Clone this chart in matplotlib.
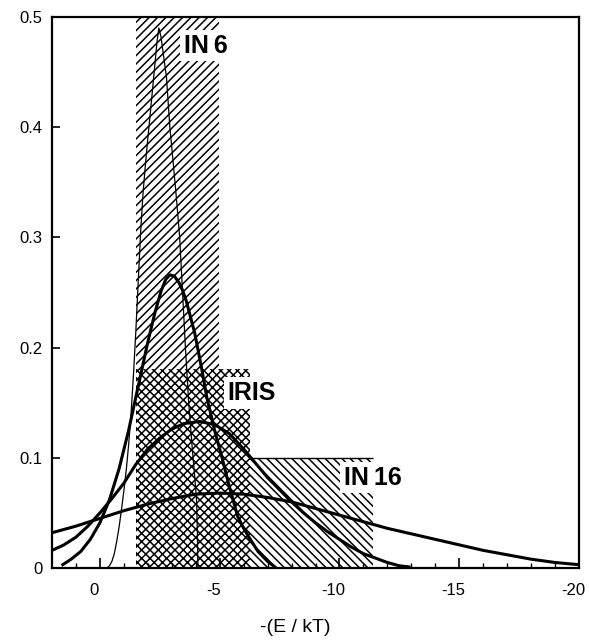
import matplotlib
matplotlib.use("Agg")
import matplotlib.pyplot as plt
import matplotlib.transforms as mtransforms
from matplotlib.patches import Rectangle

plt.rcParams['font.family'] = ['Liberation Sans', 'DejaVu Sans']
plt.rcParams['axes.unicode_minus'] = False
plt.rcParams['hatch.linewidth'] = 1.1

# instrument windows: (left, right, height) in -(E/kT)
in6_window = (-1.5, -4.96, 0.5)
iris_window = (-1.5, -6.25, 0.181)
in16_window = (-6.25, -11.4, 0.1)

# narrow distribution (thin line)
a_x = [-0.3, -0.4, -0.5, -0.6, -0.7, -0.8, -0.9, -1.0, -1.1, -1.2, -1.3, -1.4, -1.5,
       -1.6, -1.7, -1.8, -1.9, -2.0, -2.1, -2.2, -2.3, -2.38, -2.46,
       -2.55, -2.65, -2.78, -2.92, -3.05, -3.2, -3.33, -3.45, -3.57, -3.7,
       -3.85, -3.97, -4.04, -4.07, -4.09]
a_y = [0.0, 0.002, 0.006, 0.013, 0.024, 0.037, 0.053, 0.07, 0.089, 0.112, 0.14, 0.175, 0.215,
       0.26, 0.305, 0.34, 0.366, 0.39, 0.412, 0.435, 0.458, 0.477, 0.49,
       0.482, 0.466, 0.445, 0.40, 0.37, 0.334, 0.30, 0.25, 0.2, 0.152,
       0.11, 0.08, 0.06, 0.03, 0.0]

b_x = [1.55, 1.2, 0.8, 0.4, 0.0, -0.4, -0.8, -1.2, -1.6, -2.0, -2.3, -2.55, -2.75, -2.92,
       -3.1, -3.3, -3.45, -3.61, -3.96, -4.24, -4.46, -4.8, -5.1, -5.4, -5.75, -6.0, -6.25, -6.6,
       -7.0, -7.3]
b_y = [0.003, 0.008, 0.015, 0.026, 0.041, 0.062, 0.09, 0.125, 0.165, 0.205, 0.232, 0.251, 0.262, 0.266,
       0.265, 0.259, 0.252, 0.242, 0.213, 0.182, 0.155, 0.124, 0.1, 0.074, 0.047, 0.036, 0.027, 0.015,
       0.006, 0.001]

c_x = [2.0, 1.5, 1.0, 0.5, 0.0, -0.5, -1.0, -1.5, -2.0, -2.5, -3.0, -3.5, -4.17, -4.8,
       -5.4, -6.0, -6.5, -7.0, -7.5, -8.0, -8.5, -9.0, -9.5, -10.0, -10.5, -11.0, -11.5,
       -12.0, -12.5, -12.9]
c_y = [0.016, 0.021, 0.028, 0.038, 0.05, 0.063, 0.077, 0.094, 0.108, 0.118, 0.126, 0.131, 0.133, 0.13,
       0.122, 0.108, 0.095, 0.082, 0.071, 0.06, 0.05, 0.041, 0.033, 0.026, 0.019, 0.013, 0.009,
       0.005, 0.002, 0.001]

d_x = [2.0, 1.0, 0.0, -1.0, -2.0, -3.0, -4.0, -5.0, -6.0, -7.0, -8.0, -9.0,
       -10.0, -11.0, -12.0, -13.0, -14.0, -15.0, -16.0, -17.0, -18.0, -19.0, -20.0]
d_y = [0.032, 0.038, 0.045, 0.052, 0.058, 0.063, 0.067, 0.068, 0.067, 0.064, 0.06, 0.054,
       0.048, 0.042, 0.036, 0.031, 0.026, 0.021, 0.016, 0.012, 0.008, 0.005, 0.003]

fig = plt.figure(figsize=(5.89, 6.43), dpi=100)
ax = fig.add_axes([52 / 589, 1 - 568 / 643, 527 / 589, 551 / 643])

# hatched windows
for (x0, x1, h), hatch in [(in16_window, '\\\\\\\\'), (in6_window, '////'), (iris_window, 'xxxx')]:
    ax.add_patch(Rectangle((x0, 0), x1 - x0, h, facecolor='white', edgecolor='black',
                           hatch=hatch, linewidth=0, zorder=1))
ax.hlines(in16_window[2], in16_window[0], in16_window[1], color='black', lw=1.0, zorder=2)

ax.plot(a_x, a_y, color='black', lw=0.9, zorder=3)
ax.plot(b_x, b_y, color='black', lw=2.2, zorder=3)
ax.plot(c_x, c_y, color='black', lw=2.2, zorder=3)
ax.plot(d_x, d_y, color='black', lw=2.2, zorder=3)

box = dict(boxstyle='square,pad=0.15', facecolor='white', edgecolor='none')
ax.text(-3.5, 0.474, 'IN\u20096', fontsize=18, fontweight='bold', ha='left', va='center', bbox=box, zorder=4)
ax.text(-5.33, 0.159, 'IRIS', fontsize=18, fontweight='bold', ha='left', va='center', bbox=box, zorder=4)
ax.text(-10.2, 0.082, 'IN\u200916', fontsize=18, fontweight='bold', ha='left', va='center', bbox=box, zorder=4)

ax.set_xlim(2, -20)
ax.set_ylim(0, 0.5)
ax.set_xticks([0, -5, -10, -15, -20])
ax.set_xticks(range(1, -20, -1), minor=True)
ax.set_yticks([0, 0.1, 0.2, 0.3, 0.4, 0.5])
ax.set_yticklabels(['0', '0.1', '0.2', '0.3', '0.4', '0.5'])
ax.tick_params(axis='x', which='major', direction='in', length=7, width=1.2, labelsize=12, pad=11)
ax.tick_params(axis='x', which='minor', direction='in', length=3.6, width=1.0)
ax.tick_params(axis='y', which='major', direction='in', length=6, width=1.2, labelsize=12, pad=7)
for s in ax.spines.values():
    s.set_linewidth(1.6)

shift = mtransforms.ScaledTranslation(-6 / 100, 0, fig.dpi_scale_trans)
for t in ax.xaxis.get_major_ticks():
    t.label1.set_transform(t.label1.get_transform() + shift)

fig.text(295 / 589, 1 - 628 / 643, '-(E / kT)', fontsize=14, ha='center', va='center')

fig.savefig('out.png', dpi=100)
